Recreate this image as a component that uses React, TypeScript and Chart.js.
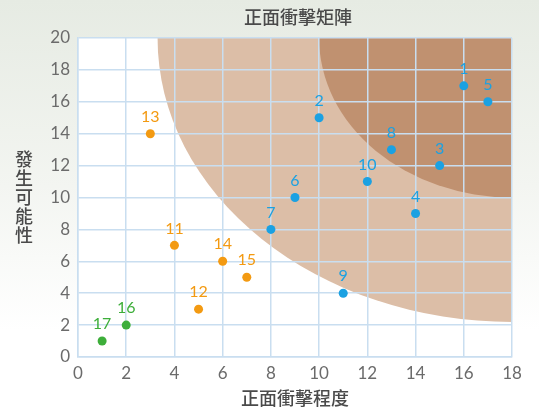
import { useEffect, useRef } from 'react';
import { Chart, registerables } from 'chart.js';

Chart.register(...registerables);

const chartTitle = '正面衝擊矩陣';
const xTitle = '正面衝擊程度';
const yTitleChars = ['發', '生', '可', '能', '性'];

const xMin = 0;
const xMax = 18;
const yMin = 0;
const yMax = 20;
const tickStep = 2;

const blueLabels = ['1', '2', '3', '4', '5', '6', '7', '8', '9', '10'];
const blueX = [16, 10, 15, 14, 17, 9, 8, 13, 11, 12];
const blueY = [17, 15, 12, 9, 16, 10, 8, 13, 4, 11];

const orangeLabels = ['11', '12', '13', '14', '15'];
const orangeX = [4, 5, 3, 6, 7];
const orangeY = [7, 3, 14, 6, 5];

const greenLabels = ['16', '17'];
const greenX = [2, 1];
const greenY = [2, 1];

// risk zones: quarter ellipses anchored at the top-right corner (xMax, yMax)
const zoneRadiusX = [14.7, 8];
const zoneRadiusY = [17.8, 10];
const zoneColors = ['#dcbea7', '#c09170'];

const BLUE = '#1ba1e2';
const ORANGE = '#f39a12';
const GREEN = '#3dae3a';
const GRID = '#c9def0';
const CJK = '"Noto Sans CJK TC", "Noto Sans CJK SC", sans-serif';
const NUM = 'Lato, "Open Sans", sans-serif';

const pointLabels = [blueLabels, orangeLabels, greenLabels];

const zonePlugin = {
  id: 'zones',
  beforeDraw(chart: any) {
    const { ctx, chartArea, scales } = chart;
    const xs = scales.x;
    const ys = scales.y;
    ctx.save();
    ctx.fillStyle = '#ffffff';
    ctx.fillRect(chartArea.left, chartArea.top, chartArea.right - chartArea.left, chartArea.bottom - chartArea.top);
    ctx.beginPath();
    ctx.rect(chartArea.left, chartArea.top, chartArea.right - chartArea.left, chartArea.bottom - chartArea.top);
    ctx.clip();
    const cx = xs.getPixelForValue(xMax);
    const cy = ys.getPixelForValue(yMax);
    zoneRadiusX.forEach((rx, i) => {
      const rxPx = Math.abs(cx - xs.getPixelForValue(xMax - rx));
      const ryPx = Math.abs(ys.getPixelForValue(yMax - zoneRadiusY[i]) - cy);
      ctx.beginPath();
      ctx.ellipse(cx, cy, rxPx, ryPx, 0, 0, Math.PI * 2);
      ctx.fillStyle = zoneColors[i];
      ctx.fill();
    });
    ctx.restore();
  },
};

const textPlugin = {
  id: 'texts',
  afterDraw(chart: any) {
    const { ctx, chartArea } = chart;
    ctx.save();
    ctx.fillStyle = '#4a4a4a';
    ctx.textAlign = 'center';
    ctx.textBaseline = 'middle';
    ctx.font = `500 18px ${CJK}`;
    ctx.fillText(chartTitle, 298, 17);
    const midY = (chartArea.top + chartArea.bottom) / 2;
    const step = 19;
    yTitleChars.forEach((c, i) => {
      ctx.fillText(c, 24, midY + (i - (yTitleChars.length - 1) / 2) * step);
    });
    ctx.restore();
  },
  afterDatasetsDraw(chart: any) {
    const { ctx } = chart;
    ctx.save();
    ctx.textAlign = 'center';
    ctx.textBaseline = 'middle';
    ctx.font = `16px ${NUM}`;
    chart.data.datasets.forEach((ds: any, di: number) => {
      const meta = chart.getDatasetMeta(di);
      ctx.fillStyle = ds.backgroundColor;
      meta.data.forEach((el: any, i: number) => {
        ctx.fillText(pointLabels[di][i], el.x, el.y - 17);
      });
    });
    ctx.restore();
  },
};

function pts(xs: number[], ys: number[]) {
  return xs.map((x, i) => ({ x, y: ys[i] }));
}

export default function App() {
  const ref = useRef<HTMLCanvasElement>(null);
  useEffect(() => {
    if (!ref.current) return;
    const chart = new Chart(ref.current, {
      type: 'scatter',
      data: {
        datasets: [
          { data: pts(blueX, blueY), backgroundColor: BLUE, borderWidth: 0, pointRadius: 4.5 },
          { data: pts(orangeX, orangeY), backgroundColor: ORANGE, borderWidth: 0, pointRadius: 4.5 },
          { data: pts(greenX, greenY), backgroundColor: GREEN, borderWidth: 0, pointRadius: 4.5 },
        ],
      },
      options: {
        animation: false,
        responsive: false,
        maintainAspectRatio: false,
        layout: { padding: { top: 38, right: 27, bottom: 0, left: 0 } },
        plugins: { legend: { display: false }, tooltip: { enabled: false } },
        scales: {
          x: {
            type: 'linear',
            min: xMin,
            max: xMax,
            ticks: { stepSize: tickStep, color: '#6b6b6b', font: { family: NUM, size: 17 }, padding: 6 },
            grid: { color: GRID, lineWidth: 1.5, drawTicks: false },
            border: { color: GRID, width: 1.5 },
            title: { display: true, text: xTitle, color: '#4a4a4a', font: { family: CJK, size: 18, weight: 500 as any }, padding: { top: 2, bottom: 4 } },
            afterFit(scale: any) {
              scale.height = 56;
            },
          },
          y: {
            type: 'linear',
            min: yMin,
            max: yMax,
            ticks: { stepSize: tickStep, color: '#6b6b6b', font: { family: NUM, size: 17 }, padding: 8 },
            grid: { color: GRID, lineWidth: 1.5, drawTicks: false },
            border: { color: GRID, width: 1.5 },
            afterFit(scale: any) {
              scale.width = 78;
            },
          },
        },
      },
      plugins: [zonePlugin, textPlugin],
    });
    return () => chart.destroy();
  }, []);
  return (
    <div
      style={{
        position: 'fixed',
        left: 0,
        top: 0,
        width: 539,
        height: 413,
        background: 'linear-gradient(to bottom, #e6ebe3 0%, #f3f5f1 45%, #ffffff 80%)',
      }}
    >
      <canvas ref={ref} width={539} height={413} style={{ display: 'block' }} />
    </div>
  );
}
